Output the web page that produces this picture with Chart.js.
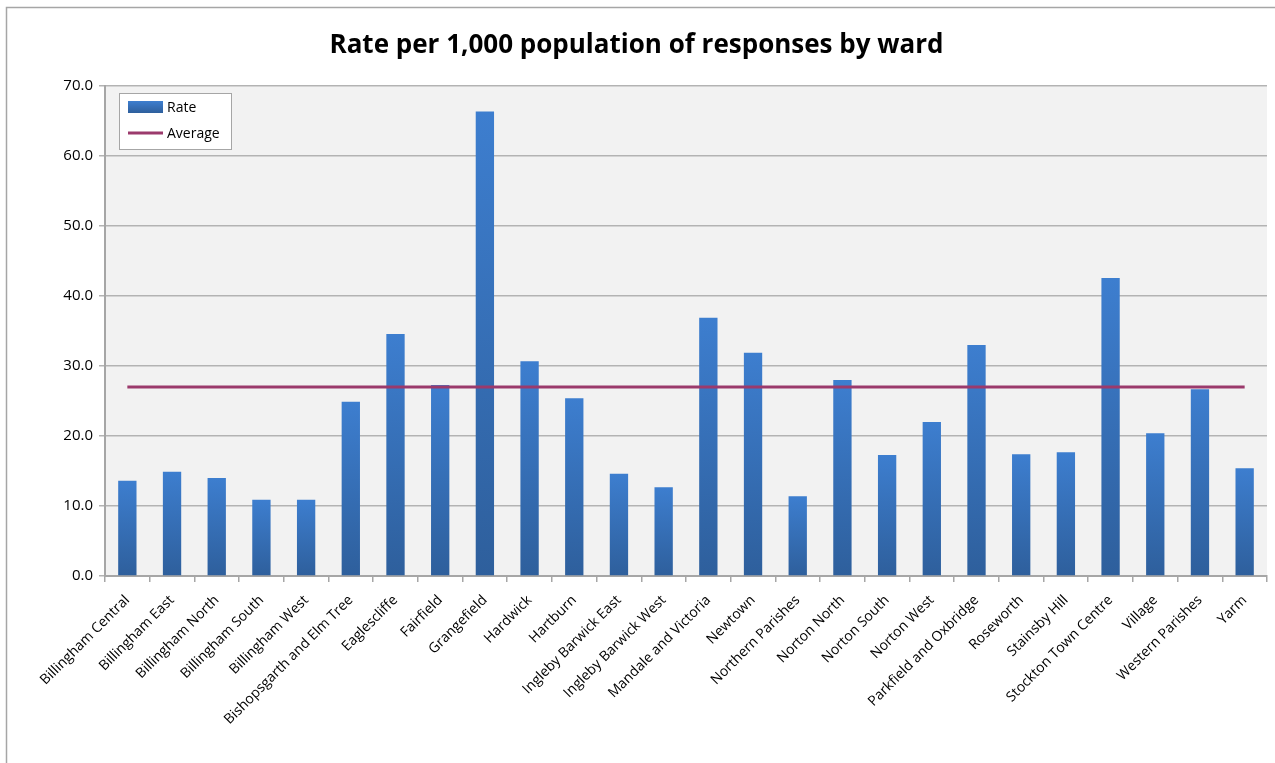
<!DOCTYPE html>
<html>
<head>
<meta charset="utf-8">
<script src="https://cdn.jsdelivr.net/npm/chart.js@4"></script>
<style>
html,body{margin:0;padding:0;background:#fff;}
#wrap{width:1275px;height:763px;position:relative;}
</style>
</head>
<body>
<div id="wrap"><canvas id="c"></canvas></div>
<script>
const categories = ["Billingham Central","Billingham East","Billingham North","Billingham South","Billingham West","Bishopsgarth and Elm Tree","Eaglescliffe","Fairfield","Grangefield","Hardwick","Hartburn","Ingleby Barwick East","Ingleby Barwick West","Mandale and Victoria","Newtown","Northern Parishes","Norton North","Norton South","Norton West","Parkfield and Oxbridge","Roseworth","Stainsby Hill","Stockton Town Centre","Village","Western Parishes","Yarm"];
const rateValues = [13.6,14.9,14.0,10.9,10.9,24.9,34.6,27.3,66.4,30.7,25.4,14.6,12.7,36.9,31.9,11.4,28.0,17.3,22.0,33.0,17.4,17.7,42.6,20.4,26.7,15.4];
const averageValues = [27.0,27.0,27.0,27.0,27.0,27.0,27.0,27.0,27.0,27.0,27.0,27.0,27.0,27.0,27.0,27.0,27.0,27.0,27.0,27.0,27.0,27.0,27.0,27.0,27.0,27.0];
const yTicks = [0,10,20,30,40,50,60,70];
const seriesNames = ["Rate","Average"];
const titleText = "Rate per 1,000 population of responses by ward";

const FONT = "'Open Sans', 'Liberation Sans', sans-serif";

function barGradient(ctx){
  const chart = ctx.chart;
  const ys = chart.scales.y;
  if (!ys || ctx.type !== 'data') return '#3a76c4';
  const v = ctx.parsed ? ctx.parsed.y : 0;
  const top = ys.getPixelForValue(v);
  const base = ys.getPixelForValue(0);
  if (!isFinite(top) || !isFinite(base) || top === base) return '#3a76c4';
  const g = chart.ctx.createLinearGradient(0, top, 0, base);
  g.addColorStop(0, '#3d7ecf');
  g.addColorStop(1, '#2e5f9c');
  return g;
}

const bgPlugin = {
  id: 'bg',
  beforeDraw(chart){
    const c = chart.ctx;
    c.save();
    c.fillStyle = '#ffffff';
    c.fillRect(0,0,chart.width,chart.height);
    c.strokeStyle = '#a6a6a6';
    c.lineWidth = 1.5;
    c.strokeRect(6.5, 7.5, 1400, 900);
    const a = chart.chartArea;
    c.fillStyle = '#f2f2f2';
    c.fillRect(a.left, a.top, a.right - a.left, a.bottom - a.top);
    c.restore();
  },
  afterDraw(chart){
    const c = chart.ctx;
    c.save();
    const x = 119, y = 93, w = 112, h = 56;
    c.fillStyle = '#ffffff';
    c.fillRect(x, y, w, h);
    c.strokeStyle = '#a6a6a6';
    c.lineWidth = 1;
    c.strokeRect(x + 0.5, y + 0.5, w, h);
    const g = c.createLinearGradient(0, 101, 0, 113);
    g.addColorStop(0, '#3d7ecf');
    g.addColorStop(1, '#2e5f9c');
    c.fillStyle = g;
    c.fillRect(128, 101, 35, 12);
    c.strokeStyle = '#9b3a6c';
    c.lineWidth = 3;
    c.beginPath();
    c.moveTo(128, 133);
    c.lineTo(163, 133);
    c.stroke();
    c.fillStyle = '#000';
    c.font = '14px ' + FONT;
    c.textBaseline = 'middle';
    c.fillText(seriesNames[0], 167, 108);
    c.fillText(seriesNames[1], 167, 134);
    c.restore();
  }
};

new Chart(document.getElementById('c'), {
  type: 'bar',
  data: {
    labels: categories,
    datasets: [
      {
        type: 'line',
        label: seriesNames[1],
        data: averageValues,
        borderColor: '#9b3a6c',
        borderWidth: 3,
        pointRadius: 0,
        fill: false,
        order: 0
      },
      {
        type: 'bar',
        label: seriesNames[0],
        data: rateValues,
        backgroundColor: barGradient,
        borderWidth: 0,
        barPercentage: 1,
        categoryPercentage: 0.41,
        order: 1
      }
    ]
  },
  plugins: [bgPlugin],
  options: {
    responsive: true,
    maintainAspectRatio: false,
    animation: false,
    devicePixelRatio: 1,
    layout: { padding: { left: 6, right: 8, top: 0, bottom: 0 } },
    plugins: {
      legend: { display: false },
      tooltip: { enabled: false },
      title: {
        display: true,
        text: titleText,
        color: '#000',
        font: { family: FONT, size: 26, weight: 'bold', lineHeight: 1.2 },
        padding: { top: 30, bottom: 25 }
      }
    },
    scales: {
      x: {
        offset: true,
        grid: {
          offset: true,
          drawOnChartArea: false,
          drawTicks: true,
          tickLength: 6,
          color: '#a6a6a6',
          lineWidth: 1.5
        },
        border: { display: true, color: '#a6a6a6', width: 2 },
        ticks: {
          color: '#000',
          font: { family: FONT, size: 14 },
          maxRotation: 45,
          minRotation: 45,
          autoSkip: false,
          padding: 10
        },
        afterFit(scale){ scale.height = 187; }
      },
      y: {
        min: 0,
        max: 70,
        afterBuildTicks(scale){ scale.ticks = yTicks.map(v => ({ value: v })); },
        grid: {
          color: '#b3b3b3',
          lineWidth: 1.5,
          drawTicks: true,
          tickLength: 6
        },
        border: { display: true, color: '#a6a6a6', width: 2 },
        ticks: {
          color: '#000',
          font: { family: FONT, size: 15 },
          padding: 6,
          callback: v => Number(v).toFixed(1)
        },
        afterFit(scale){ scale.width = 99; }
      }
    }
  }
});
</script>
</body>
</html>
